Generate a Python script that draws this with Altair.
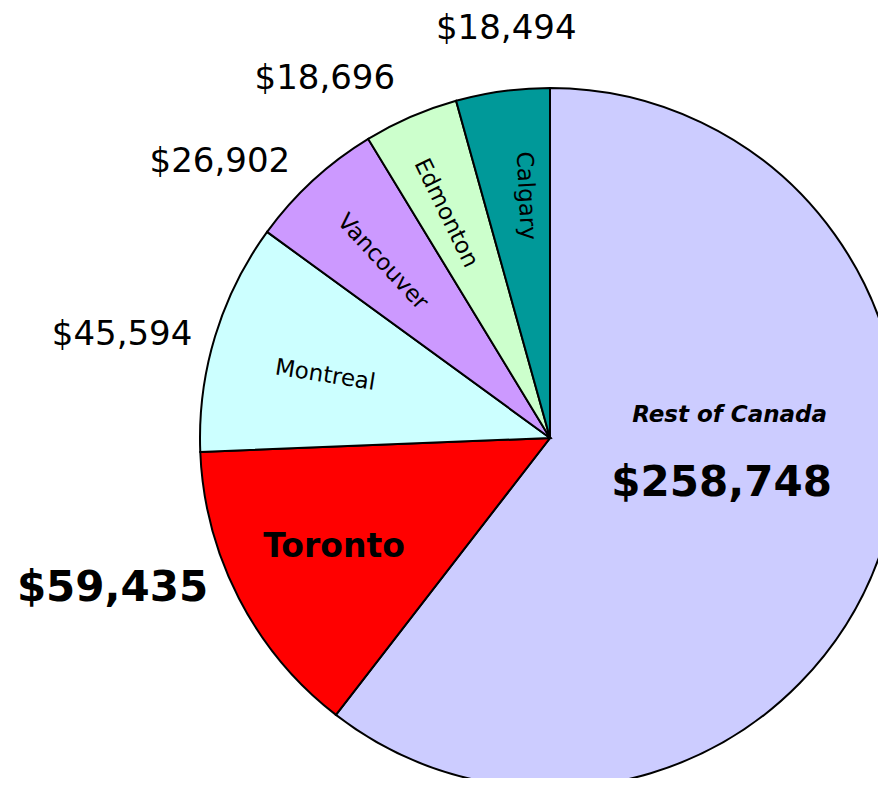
import altair as alt
import pandas as pd

# ---- data ----
cities = ["Rest of Canada", "Toronto", "Montreal", "Vancouver", "Edmonton", "Calgary"]
values = [258748, 59435, 45594, 26902, 18696, 18494]
amount_labels = ["$258,748", "$59,435", "$45,594", "$26,902", "$18,696", "$18,494"]
colors = ["#CCCCFF", "#FF0000", "#CCFFFF", "#CC99FF", "#CCFFCC", "#009999"]

df = pd.DataFrame({
    "city": cities,
    "value": values,
    "amount": amount_labels,
    "ord": list(range(len(cities))),
})

CX, CY, R = 542, 430, 350
FONT = "DejaVu Sans"

pie = alt.Chart(df).mark_arc(radius=R, stroke="black", strokeWidth=2).encode(
    theta=alt.Theta("value:Q", stack=True),
    order=alt.Order("ord:Q"),
    color=alt.Color("city:N", scale=alt.Scale(domain=cities, range=colors), legend=None),
    x=alt.value(CX),
    y=alt.value(CY),
)

base = (
    alt.Chart(df)
    .transform_window(cum="sum(value)", sort=[alt.SortField("ord")])
    .transform_joinaggregate(total="sum(value)")
    .transform_calculate(mid="2*PI*(datum.cum - datum.value/2)/datum.total")
)

# label styles: (city, text field, radius, angle, dx, dy, size, weight, style)
label_styles = [
    ("Rest of Canada", "city", 175, 0, 14, -80, 23, "bold", "italic"),
    ("Rest of Canada", "amount", 175, 0, 6, -12, 42, "bold", "normal"),
    ("Toronto", "city", 243, 0, 0, -2, 33, "bold", "normal"),
    ("Toronto", "amount", 463, 0, -26, -62, 42, "bold", "normal"),
    ("Montreal", "city", 232, 9, -2, 5, 23, "normal", "normal"),
    ("Montreal", "amount", 442, 0, -5, 25, 34, "normal", "normal"),
    ("Vancouver", "city", 243, 47, 0, 4, 23, "normal", "normal"),
    ("Vancouver", "amount", 430, 0, -39, 40, 34, "normal", "normal"),
    ("Edmonton", "city", 248, 64, 0, 6, 23, "normal", "normal"),
    ("Edmonton", "amount", 423, 0, -57, 29, 34, "normal", "normal"),
    ("Calgary", "city", 244, 87, 0, -9, 23, "normal", "normal"),
    ("Calgary", "amount", 412, 0, 12, -1, 34, "normal", "normal"),
]

layers = [pie]
for city, field, rad, ang, dx, dy, size, weight, style in label_styles:
    layers.append(
        base.transform_filter(alt.datum.city == city)
        .mark_text(
            radius=rad, angle=ang, dx=dx, dy=dy, fontSize=size, fontWeight=weight,
            fontStyle=style, font=FONT, color="black", align="center", baseline="middle",
        )
        .encode(
            theta=alt.Theta("mid:Q", scale=None, stack=False),
            text=alt.Text(f"{field}:N"),
            x=alt.value(CX),
            y=alt.value(CY),
        )
    )

chart = (
    alt.layer(*layers)
    .properties(width=870, height=770, autosize=alt.AutoSizeParams(type="none"), padding=0)
    .configure_view(stroke=None)
)

chart.save("out.html", embed_options={"renderer": "svg", "actions": False})
